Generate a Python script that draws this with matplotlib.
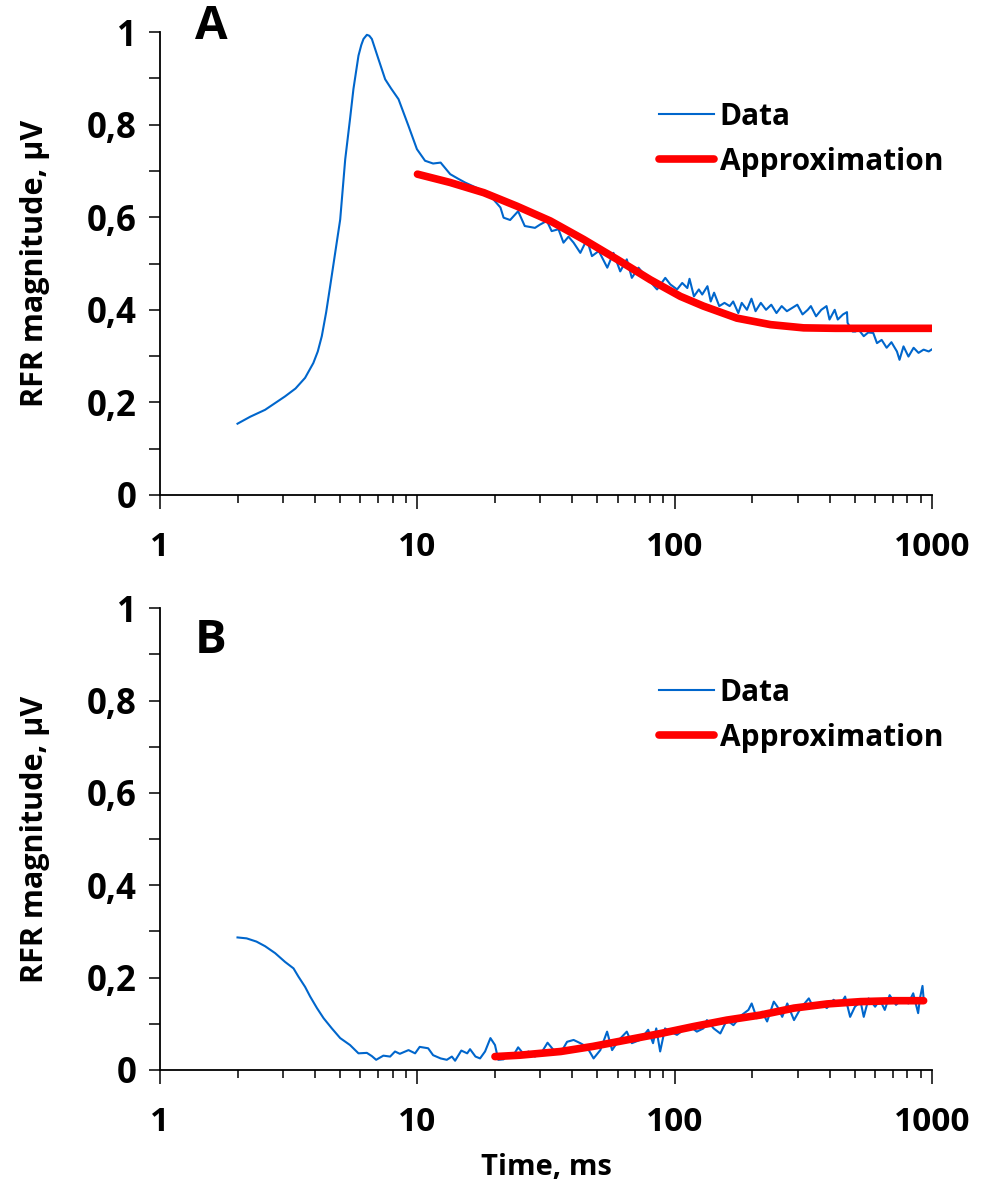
import matplotlib
matplotlib.use("Agg")
import matplotlib.pyplot as plt
from matplotlib.ticker import FixedLocator, FuncFormatter, LogLocator, NullFormatter

plt.rcParams['font.family'] = ['Open Sans', 'DejaVu Sans']

# panel A: measured data
time_a = [2.0, 2.24, 2.56, 3.06, 3.36, 3.66, 3.94, 4.1, 4.25, 4.42, 4.58, 4.79, 5.01, 5.24,
          5.47, 5.64, 5.90, 6.05, 6.17, 6.36, 6.5, 6.65, 7.05, 7.49, 7.9, 8.44, 9.23, 9.95,
          10.7, 11.5, 12.3, 13.4, 14.4, 15.3,
          17.5, 19.2, 21.0, 21.6, 22.9, 24.6, 26.1, 28.6, 29.9, 31.8, 33.2, 35.3, 36.9, 38.6,
          40.4, 42.9, 45.5, 47.6, 50.6, 54.6, 57.7, 61.3, 65.0, 68.0, 72.2, 77.8, 85.2, 91.7,
          95.9, 101.9, 106.7, 111.7, 113.9, 118.5, 123.8, 127.6, 133.7, 137.7, 141.9, 148.6,
          155.7, 163.1, 168.3, 176.2, 181.7, 190.4, 198.2, 205.6, 215.5, 225.8, 236.6, 247.9,
          259.7, 272.1, 285.1, 298.7, 313, 327.9, 337.2, 353.2, 370.1, 387.8, 398.3, 417.3,
          428.9, 449.3, 465.7, 468, 490, 502, 517, 541, 563, 589, 609, 635, 664, 693, 728, 745,
          772, 807, 845, 883, 924, 967, 998]
rfr_a = [0.154, 0.169, 0.184, 0.213, 0.230, 0.253, 0.285, 0.310, 0.343, 0.395, 0.451, 0.523,
         0.595, 0.725, 0.812, 0.877, 0.949, 0.972, 0.985, 0.994, 0.992, 0.985, 0.942, 0.898,
         0.878, 0.855, 0.797, 0.747, 0.722, 0.716,
         0.718, 0.693, 0.683, 0.675, 0.660, 0.646, 0.621, 0.599, 0.594, 0.613, 0.581, 0.577,
         0.584, 0.592, 0.570, 0.574, 0.545, 0.558, 0.545, 0.523, 0.552, 0.516, 0.527, 0.491,
         0.523, 0.483, 0.509, 0.469, 0.491, 0.469, 0.444, 0.469, 0.455, 0.444, 0.458, 0.447,
         0.467, 0.429, 0.444, 0.433, 0.451, 0.418, 0.437, 0.408, 0.415, 0.408, 0.418, 0.393,
         0.415, 0.400, 0.424, 0.397, 0.415, 0.400, 0.411, 0.393, 0.408, 0.397, 0.404, 0.411,
         0.390, 0.400, 0.408, 0.386, 0.400, 0.408, 0.379, 0.400, 0.379, 0.390, 0.395, 0.372,
         0.353, 0.353, 0.357, 0.343, 0.351, 0.350, 0.328, 0.335, 0.318, 0.330, 0.310, 0.292,
         0.321, 0.299, 0.318, 0.307, 0.314, 0.310, 0.315]

# panel A: approximation
fit_time_a = [10, 13.4, 18.1, 24.3, 32.8, 44.2, 59.6, 80.2, 105, 129, 174, 235, 316, 420,
              560, 750, 1000]
fit_rfr_a = [0.693, 0.675, 0.653, 0.624, 0.592, 0.552, 0.509, 0.465, 0.429, 0.408, 0.382,
             0.368, 0.361, 0.360, 0.360, 0.360, 0.360]

# panel B: measured data
time_b = [2.0, 2.17, 2.37, 2.56, 2.80, 3.06, 3.30, 3.45, 3.66, 3.83, 4.07, 4.32, 4.65, 5.01,
          5.47, 5.90, 6.36, 6.65, 6.91, 7.37, 7.83, 8.18, 8.54, 9.23, 9.79, 10.2, 11.0, 11.5,
          12.3, 13.0, 13.6, 14.0, 14.8, 15.6, 16.0, 16.8, 17.5, 18.3, 19.2, 20.0, 20.6, 21.6,
          22.6, 23.6, 24.6, 25.8, 27.0, 28.6, 30.5, 32.0, 33.8, 35.9, 38.1, 40.4, 42.9, 45.5,
          48.3, 51.3, 54.5, 57.0, 60.6, 65.0, 68.0, 73.2, 78.7, 82.2, 84.6, 87.6, 91.5, 95.9,
          101.8, 108.0, 114.6, 121.6, 129.0, 133.1, 141.3, 150, 159, 168.7, 181.7, 192.9,
          198.6, 208, 218, 228, 242, 250, 261, 273, 290, 308, 331, 346, 367, 389, 413, 438,
          458, 479, 500, 526, 541, 565, 599, 625, 653, 682, 722, 769, 806, 842, 880, 894, 915,
          924]
rfr_b = [0.287, 0.285, 0.278, 0.268, 0.253, 0.234, 0.220, 0.202, 0.180, 0.159, 0.134, 0.112,
         0.090, 0.069, 0.054, 0.036, 0.037, 0.030, 0.022, 0.031, 0.029, 0.040, 0.035, 0.043,
         0.036, 0.050, 0.047, 0.032, 0.025, 0.022, 0.029, 0.020, 0.042, 0.036, 0.045, 0.029,
         0.025, 0.040, 0.069, 0.054, 0.022, 0.023, 0.036, 0.032, 0.049, 0.035, 0.040, 0.029,
         0.040, 0.059, 0.043, 0.036, 0.061, 0.065, 0.058, 0.050, 0.025, 0.043, 0.083, 0.043,
         0.065, 0.083, 0.058, 0.065, 0.087, 0.058, 0.090, 0.040, 0.090, 0.083, 0.076, 0.087,
         0.094, 0.083, 0.090, 0.108, 0.090, 0.079, 0.108, 0.097, 0.119, 0.130, 0.144, 0.112,
         0.126, 0.105, 0.148, 0.137, 0.115, 0.144, 0.108, 0.134, 0.155, 0.134, 0.144, 0.134,
         0.152, 0.141, 0.159, 0.115, 0.137, 0.148, 0.115, 0.155, 0.137, 0.152, 0.130, 0.162,
         0.141, 0.155, 0.144, 0.166, 0.123, 0.155, 0.182, 0.155]

# panel B: approximation
fit_time_b = [20, 25, 30, 36, 48, 65, 88, 118, 159, 215, 290, 390, 526, 709, 924]
fit_rfr_b = [0.029, 0.032, 0.036, 0.040, 0.051, 0.065, 0.079, 0.094, 0.108, 0.119, 0.134,
             0.143, 0.148, 0.150, 0.150]

y_ticks = [0, 0.2, 0.4, 0.6, 0.8, 1]
x_ticks = [1, 10, 100, 1000]

blue = '#0066cc'
red = '#ff0000'

fig = plt.figure(figsize=(9.84, 11.87), dpi=100)
ax_a = fig.add_axes([0.1626, 0.583, 0.785, 0.390])
ax_b = fig.add_axes([0.1626, 0.0986, 0.785, 0.389])


def comma(v, pos):
    s = ('%.1f' % v).rstrip('0').rstrip('.')
    return s.replace('.', ',')


panels = [(ax_a, time_a, rfr_a, fit_time_a, fit_rfr_a, 'A', (0.045, 1.012)),
          (ax_b, time_b, rfr_b, fit_time_b, fit_rfr_b, 'B', (0.045, 0.93))]

for ax, t, r, ft, fr, letter, pos in panels:
    ax.plot(t, r, color=blue, lw=1.5, label='Data')
    ax.plot(ft, fr, color=red, lw=5.5, solid_capstyle='round', label='Approximation')
    ax.set_xscale('log')
    ax.set_xlim(1, 1000)
    ax.set_ylim(0, 1)
    ax.xaxis.set_major_locator(FixedLocator(x_ticks))
    ax.xaxis.set_major_formatter(FuncFormatter(lambda v, p: '%d' % v))
    ax.xaxis.set_minor_locator(LogLocator(base=10, subs=range(2, 10)))
    ax.xaxis.set_minor_formatter(NullFormatter())
    ax.yaxis.set_major_locator(FixedLocator(y_ticks))
    ax.yaxis.set_minor_locator(FixedLocator([0.1, 0.3, 0.5, 0.7, 0.9]))
    ax.yaxis.set_major_formatter(FuncFormatter(comma))
    for s in ['top', 'right']:
        ax.spines[s].set_visible(False)
    for s in ['left', 'bottom']:
        ax.spines[s].set_linewidth(1.3)
    ax.tick_params(axis='both', which='both', direction='out', width=1.1)
    ax.tick_params(axis='x', which='major', length=10, pad=16, labelsize=24)
    ax.tick_params(axis='x', which='minor', length=6)
    ax.tick_params(axis='y', which='both', length=8, pad=9, labelsize=25)
    for lab in ax.get_xticklabels() + ax.get_yticklabels():
        lab.set_fontweight('bold')
    ax.set_ylabel('RFR magnitude, µV', fontsize=22, fontweight='bold', labelpad=26)
    ax.text(pos[0], pos[1], letter, transform=ax.transAxes, fontsize=34,
            fontweight='bold', va='center', ha='left', clip_on=False)
    ax.legend(loc='upper left', bbox_to_anchor=(0.63, 0.875), frameon=False,
              handlelength=1.85, handletextpad=0.2, labelspacing=0.5,
              borderaxespad=0, prop={'weight': 'bold', 'size': 21.5})

ax_b.set_xlabel('Time, ms', fontsize=21, fontweight='bold', labelpad=10)

fig.savefig('out.png', dpi=100)
